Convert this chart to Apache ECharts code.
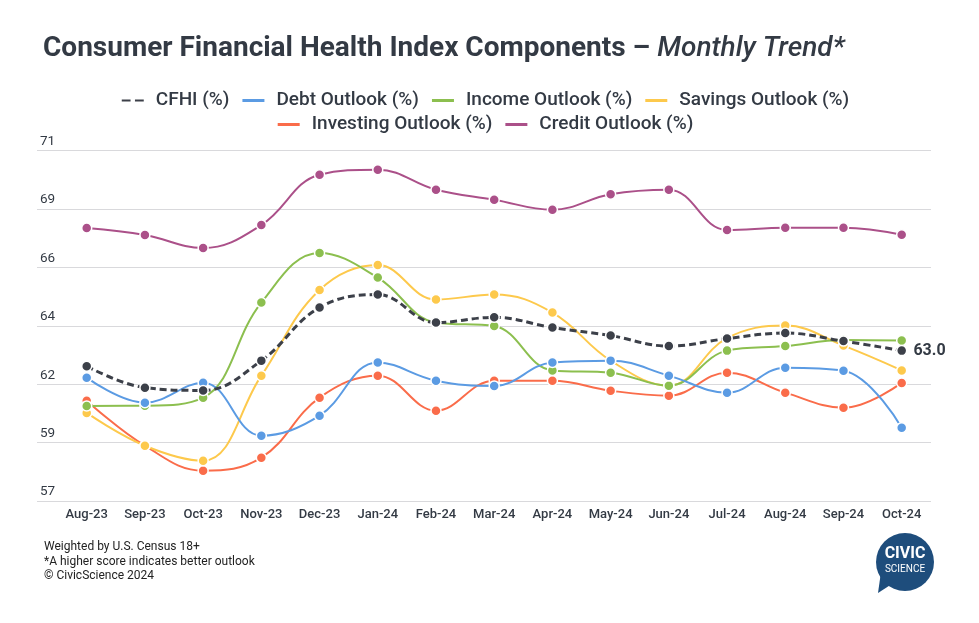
<!DOCTYPE html>
<html>
<head>
<meta charset="utf-8">
<script src="https://cdn.jsdelivr.net/npm/echarts@6/dist/echarts.min.js"></script>
<style>html,body{margin:0;padding:0;background:#fff}#c{width:979px;height:623px}</style>
</head>
<body>
<div id="c"></div>
<script>
const categories = ['Aug-23','Sep-23','Oct-23','Nov-23','Dec-23','Jan-24','Feb-24','Mar-24','Apr-24','May-24','Jun-24','Jul-24','Aug-24','Sep-24','Oct-24'];
const cfhi      = [62.39, 61.53, 61.42, 62.61, 64.73, 65.25, 64.13, 64.34, 63.93, 63.61, 63.19, 63.49, 63.71, 63.39, 63.01];
const debt      = [61.93, 60.93, 61.73, 59.61, 60.41, 62.54, 61.81, 61.60, 62.54, 62.61, 62.01, 61.33, 62.33, 62.21, 59.93];
const income    = [60.80, 60.81, 61.13, 64.93, 66.91, 65.93, 64.13, 63.99, 62.22, 62.13, 61.61, 63.01, 63.19, 63.43, 63.41];
const savings   = [60.52, 59.21, 58.61, 62.01, 65.43, 66.43, 65.05, 65.25, 64.53, 62.61, 61.61, 63.51, 64.01, 63.21, 62.22];
const investing = [61.01, 59.21, 58.21, 58.73, 61.13, 62.01, 60.61, 61.81, 61.81, 61.41, 61.21, 62.13, 61.33, 60.73, 61.72];
const credit    = [67.91, 67.63, 67.11, 68.03, 70.04, 70.24, 69.44, 69.04, 68.64, 69.26, 69.44, 67.83, 67.92, 67.92, 67.64];
const yMin = 57, yMax = 71, ySteps = 6;

const chart = echarts.init(document.getElementById('c'));
const textColor = '#333a44';
function line(name, data, color, extra) {
  return Object.assign({
    name, type: 'line', data, smooth: 0.4, xAxisIndex: 1, yAxisIndex: 1,
    symbol: 'circle', symbolSize: 10, showSymbol: true,
    lineStyle: { color, width: 2 },
    itemStyle: { color, borderColor: '#fff', borderWidth: 1.5 },
    emphasis: { disabled: true }
  }, extra || {});
}
const legendBase = {
  left: 'center', orient: 'horizontal',
  itemWidth: 22, itemHeight: 3, itemGap: 5,
  itemStyle: { borderWidth: 0 },
  lineStyle: { width: 0 },
  textStyle: { fontSize: 19, fontWeight: 500, lineHeight: 16, color: textColor, fontFamily: 'Roboto', padding: [0, 8, 0, 7] }
};
const option = {
  animation: false,
  backgroundColor: '#fff',
  textStyle: { fontFamily: 'Roboto' },
  title: {
    left: 38, top: 30,
    text: '{a|Consumer Financial Health Index Components \u2013 }{b|Monthly Trend*}',
    textStyle: {
      rich: {
        a: { fontFamily: 'Roboto', fontSize: 28, fontWeight: 'bold', color: textColor },
        b: { fontFamily: 'Roboto', fontSize: 28, fontWeight: 500, fontStyle: 'italic', color: textColor }
      }
    }
  },
  legend: [
    Object.assign({}, legendBase, { top: 86, data: [
      { name: 'CFHI (%)', icon: 'path://M0,0h8v2h-8z M12,0h8v2h-8z' },
      { name: 'Debt Outlook (%)', icon: 'rect' },
      { name: 'Income Outlook (%)', icon: 'rect' },
      { name: 'Savings Outlook (%)', icon: 'rect' }
    ] }),
    Object.assign({}, legendBase, { top: 110, data: [
      { name: 'Investing Outlook (%)', icon: 'rect' },
      { name: 'Credit Outlook (%)', icon: 'rect' }
    ] })
  ],
  grid: [
    { left: 37, right: 48, top: 150.7, bottom: 122 },
    { left: 57.6, right: 48.2, top: 150.7, bottom: 122 }
  ],
  xAxis: [
    { type: 'category', gridIndex: 0, data: categories, show: false },
    { type: 'category', gridIndex: 1, data: categories, boundaryGap: true,
      axisLine: { show: false }, axisTick: { show: false },
      axisLabel: { color: textColor, fontSize: 13, margin: 7, fontWeight: 500, interval: 0 } }
  ],
  yAxis: [
    { type: 'value', gridIndex: 0, min: yMin, max: yMax, interval: (yMax - yMin) / ySteps,
      axisLine: { show: false }, axisTick: { show: false },
      splitLine: { lineStyle: { color: '#d9d9dc', width: 1 } },
      axisLabel: { inside: true, verticalAlign: 'bottom', margin: 3, padding: [0, 0, 2, 0],
        color: textColor, fontSize: 13.5, formatter: v => String(Math.round(v)) } },
    { type: 'value', gridIndex: 1, min: yMin, max: yMax, show: false, splitLine: { show: false } }
  ],
  series: [
    line('Credit Outlook (%)', credit, '#ab5089'),
    line('Investing Outlook (%)', investing, '#fa6c4a'),
    line('Savings Outlook (%)', savings, '#fdc94c'),
    line('Income Outlook (%)', income, '#8cbf4f'),
    line('Debt Outlook (%)', debt, '#5b9be3'),
    line('CFHI (%)', cfhi, '#3c4049', {
      lineStyle: { color: '#3c4049', width: 3, type: [7, 4] },
      label: { show: true, position: 'right', distance: 6, fontSize: 16, fontWeight: 'bold', color: textColor,
        formatter: p => p.dataIndex === categories.length - 1 ? p.value.toFixed(1) : '' },
      z: 5
    })
  ],
  graphic: [
    { type: 'text', left: 44, top: 540, style: { text: 'Weighted by U.S. Census 18+\n*A higher score indicates better outlook\n\u00a9 CivicScience 2024', fontSize: 12, lineHeight: 14.5, fill: '#222', fontFamily: 'Roboto' } },
    { type: 'group', left: 876, top: 533, children: [
      { type: 'polygon', shape: { points: [[6, 40], [3, 61], [20, 50]] }, style: { fill: '#1e4d7c' } },
      { type: 'circle', shape: { cx: 30, cy: 30, r: 29 }, style: { fill: '#1e4d7c' } },
      { type: 'text', style: { x: 30, y: 22, text: 'CIVIC', fontSize: 16, fontWeight: 'bold', fill: '#fff', align: 'center', verticalAlign: 'middle', fontFamily: 'Roboto' } },
      { type: 'text', style: { x: 30, y: 37, text: 'SCIENCE', fontSize: 10, fill: '#fff', align: 'center', verticalAlign: 'middle', fontFamily: 'Roboto' } }
    ] }
  ]
};
chart.setOption(option);
</script>
</body>
</html>
